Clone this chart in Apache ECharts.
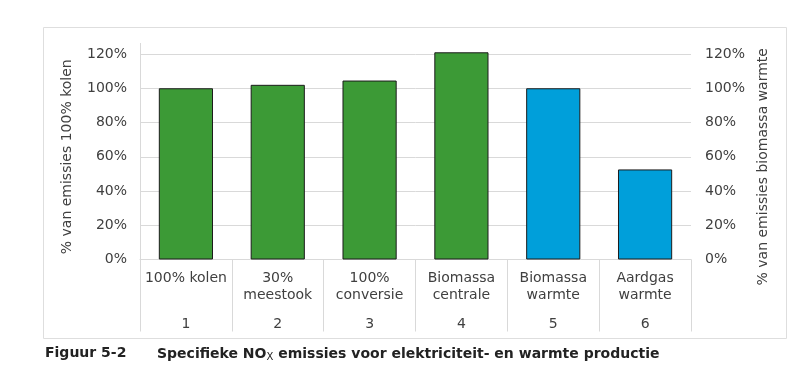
<!DOCTYPE html>
<html>
<head>
<meta charset="utf-8">
<script src="https://cdn.jsdelivr.net/npm/echarts@6/dist/echarts.min.js"></script>
<style>
html,body{margin:0;padding:0;background:#fff;}
#c{width:800px;height:388px;}
</style>
</head>
<body>
<div id="c"></div>
<script>
var categories = ['100% kolen', '30%\nmeestook', '100%\nconversie', 'Biomassa\ncentrale', 'Biomassa\nwarmte', 'Aardgas\nwarmte'];
var categoryNumbers = ['1', '2', '3', '4', '5', '6'];
var electricityValues = [100, 102, 104.5, 121, '-', '-'];
var heatValues = ['-', '-', '-', '-', 100, 52.6];
var yTicks = [0, 20, 40, 60, 80, 100, 120];

var FONT = '"DejaVu Sans", Verdana, sans-serif';
var chart = echarts.init(document.getElementById('c'), null, {renderer: 'canvas'});
var gridColor = '#d9d9d9';
var textColor = '#404040';

var option = {
  animation: false,
  backgroundColor: '#fff',
  textStyle: {fontFamily: FONT},
  title: [
    {text: 'Figuur 5-2', left: 45, top: 346, padding: 0, textStyle: {fontFamily: FONT, fontSize: 14, fontWeight: 'bold', color: '#222'}},
    {text: 'Specifieke NO{s|X} emissies voor elektriciteit- en warmte productie', left: 157, top: 346, padding: 0,
     textStyle: {fontFamily: FONT, fontSize: 14, fontWeight: 'bold', color: '#222',
       rich: {s: {fontFamily: FONT, fontSize: 10, fontWeight: 'normal', color: '#222', padding: [6, 0, 0, 0]}}}}
  ],
  grid: {left: 140, right: 109, top: 54, bottom: 128.5, containLabel: false},
  xAxis: [
    {type: 'category', data: categories, position: 'bottom',
     axisLine: {show: true, lineStyle: {color: gridColor, width: 1}},
     axisTick: {show: true, length: 72, lineStyle: {color: gridColor}},
     axisLabel: {color: textColor, fontSize: 14, lineHeight: 17, margin: 10, fontFamily: FONT, interval: 0}},
    {type: 'category', data: categoryNumbers, position: 'bottom',
     axisLine: {show: false}, axisTick: {show: false},
     axisLabel: {color: textColor, fontSize: 14, lineHeight: 17, margin: 56, fontFamily: FONT, interval: 0}}
  ],
  yAxis: [
    {type: 'value', min: 0, max: 120, interval: 20, position: 'left',
     name: '% van emissies 100% kolen', nameLocation: 'middle', nameGap: 66, nameRotate: 90,
     nameTextStyle: {color: textColor, fontSize: 14, fontFamily: FONT},
     axisLine: {show: true, lineStyle: {color: gridColor}},
     axisTick: {show: false},
     splitLine: {show: true, lineStyle: {color: gridColor}},
     axisLabel: {color: textColor, fontSize: 14, margin: 13, fontFamily: FONT, formatter: function (v) { return v + '%'; }}},
    {type: 'value', min: 0, max: 120, interval: 20, position: 'right',
     name: '% van emissies biomassa warmte', nameLocation: 'middle', nameGap: 65, nameRotate: 90,
     nameTextStyle: {color: textColor, fontSize: 14, fontFamily: FONT, padding: [0, 20, 0, 0]},
     axisLine: {show: false}, axisTick: {show: false}, splitLine: {show: false},
     axisLabel: {color: textColor, fontSize: 14, margin: 14, fontFamily: FONT, formatter: function (v) { return v + '%'; }}}
  ],
  series: [
    {type: 'bar', name: 'elektriciteit', data: electricityValues, stack: 'a', barWidth: '59%', clip: false,
     itemStyle: {color: '#3c9a36', borderColor: '#1c1c1c', borderWidth: 1}},
    {type: 'bar', name: 'warmte', data: heatValues, stack: 'a', barWidth: '59%', yAxisIndex: 1, clip: false,
     itemStyle: {color: '#009fda', borderColor: '#1c1c1c', borderWidth: 1}}
  ]
};
chart.setOption(option);

var top120 = chart.convertToPixel({yAxisIndex: 0}, 120);
var leftX = 140;
chart.setOption({
  graphic: [
    {type: 'rect', shape: {x: 43.5, y: 27.5, width: 743, height: 311}, style: {fill: null, stroke: '#dedede', lineWidth: 1}, silent: true, z: -1},
    {type: 'line', shape: {x1: leftX + 0.5, y1: 43, x2: leftX + 0.5, y2: top120}, style: {stroke: gridColor, lineWidth: 1}, silent: true}
  ]
});
</script>
</body>
</html>
